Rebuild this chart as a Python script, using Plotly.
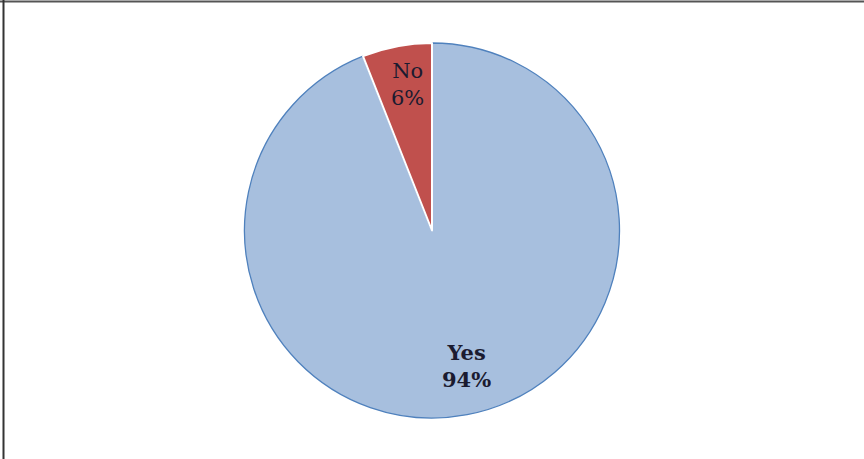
import plotly.graph_objects as go

labels = ["Yes", "No"]
values = [94, 6]
colors = ["#A7BFDE", "#C0504D"]

W, H = 864, 459
cx, cy, r = 432, 230.5, 187.5

fig = go.Figure(go.Pie(
    labels=labels, values=values, sort=False, direction="clockwise", rotation=0,
    marker=dict(colors=colors, line=dict(color=["#4F81BD", "white"], width=[1.3, 2])),
    textinfo="none", hoverinfo="label+percent", showlegend=False,
    domain=dict(x=[(cx - r) / W, (cx + r) / W], y=[1 - (cy + r) / H, 1 - (cy - r) / H]),
))

# label placement (pixel positions of text centres) and weight
label_pos = {"Yes": (466, 366), "No": (407, 85)}
label_bold = {"Yes": True, "No": False}
total = sum(values)
for lab, val in zip(labels, values):
    px, py = label_pos[lab]
    txt = f"{lab}<br>{round(100 * val / total)}%"
    if label_bold[lab]:
        txt = f"<b>{txt}</b>"
    fig.add_annotation(
        x=px / W, y=1 - py / H, xref="paper", yref="paper", showarrow=False,
        xanchor="center", yanchor="middle",
        text=txt,
        font=dict(family="DejaVu Serif", size=21, color="#1b1b30"),
        align="center",
    )

# frame lines on top and left
fig.add_shape(type="line", xref="paper", yref="paper", x0=0, x1=1, y0=1 - 1.5 / H, y1=1 - 1.5 / H,
              line=dict(color="#555555", width=2))
fig.add_shape(type="line", xref="paper", yref="paper", x0=3.5 / W, x1=3.5 / W, y0=0, y1=1,
              line=dict(color="#333333", width=2))

fig.update_layout(width=W, height=H, margin=dict(l=0, r=0, t=0, b=0),
                  paper_bgcolor="white", plot_bgcolor="white")
fig.write_html("out.html")
